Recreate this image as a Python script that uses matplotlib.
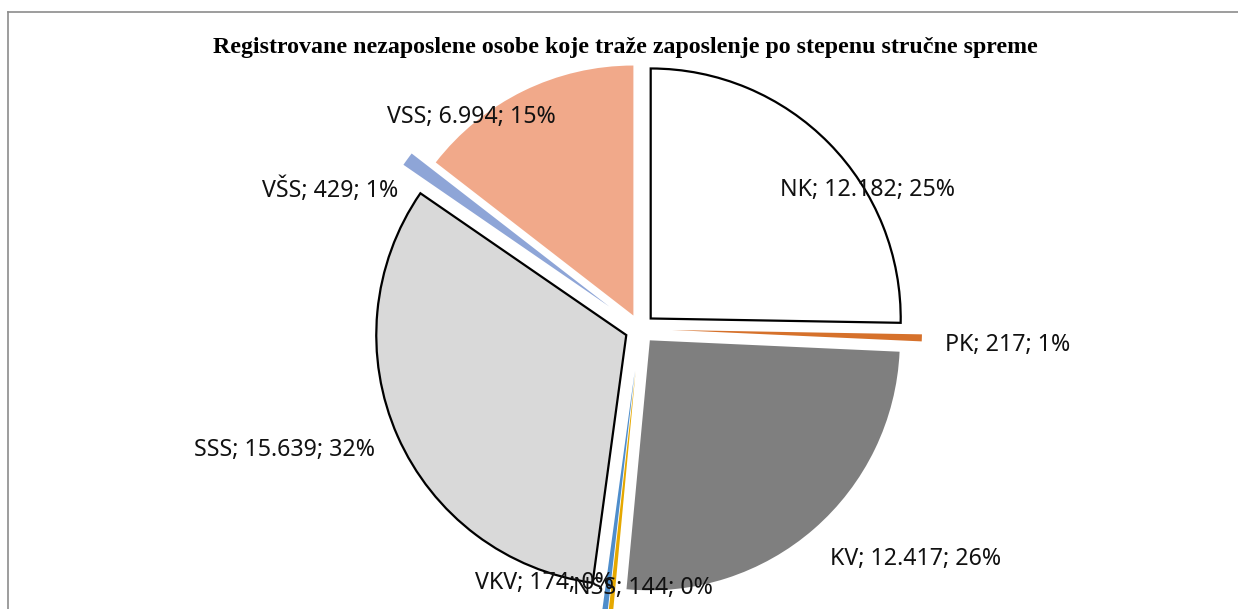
import matplotlib
matplotlib.use("Agg")
import matplotlib.pyplot as plt
from matplotlib.lines import Line2D

# data
categories = ["NK", "PK", "KV", "NSS", "VKV", "SSS", "VŠS", "VSS"]
counts = [12182, 217, 12417, 144, 174, 15639, 429, 6994]
percents = [25, 1, 26, 0, 0, 32, 1, 15]

colors = ["#FFFFFF", "#D6712B", "#7F7F7F", "#E5A800", "#4E8DCB",
          "#D9D9D9", "#8EA5D7", "#F1A98A"]
edged = ["NK", "SSS"]
# explode offsets in pixels (pie explode is in data units)
explode = [15, 32, 15, 42, 42, 15, 38, 15]
# label centres in image pixels (x, y from top)
label_pos = [(868, 190), (1008, 345), (916, 559), (643, 588),
             (544, 583), (285, 450), (330, 190), (471, 117)]

W, H = 1238, 609
fig = plt.figure(figsize=(W / 100, H / 100), dpi=100)
ax = fig.add_axes([0, 0, 1, 1])

wedges, _ = ax.pie(
    counts,
    colors=colors,
    explode=explode,
    startangle=90,
    counterclock=False,
    center=(640, H - 329),
    radius=250,
    frame=True,
)
for w, cat in zip(wedges, categories):
    if cat in edged:
        w.set_edgecolor("black")
        w.set_linewidth(1.6)
    else:
        w.set_edgecolor("none")

def fmt(n):
    return f"{n:,}".replace(",", ".")

for cat, n, p, (px, py) in zip(categories, counts, percents, label_pos):
    ax.text(px, H - py, f"{cat}; {fmt(n)}; {p}%", ha="center", va="center",
            fontsize=16.7, family="Noto Sans", color="#111111")

ax.text(625, H - 47,
        "Registrovane nezaposlene osobe koje traže zaposlenje po stepenu stručne spreme",
        ha="center", va="center", fontsize=17.2, fontweight="bold",
        family="Liberation Serif", color="black")

# chart area border (top and left visible)
ax.add_line(Line2D([8, 8], [-10, H - 12], color="#8C8C8C", lw=1.2))
ax.add_line(Line2D([8, W + 10], [H - 12, H - 12], color="#8C8C8C", lw=1.2))

ax.set_xlim(0, W)
ax.set_ylim(0, H)
ax.set_aspect("equal")
ax.axis("off")

fig.savefig("out.png", dpi=100)
plt.close(fig)
